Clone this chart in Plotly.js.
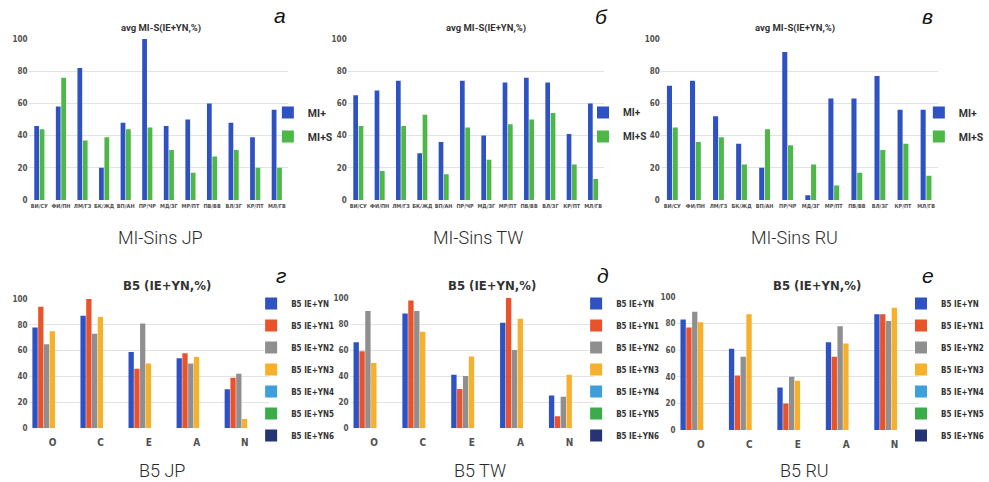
<!DOCTYPE html>
<html>
<head>
<meta charset="utf-8">
<script src="https://cdn.plot.ly/plotly-3.0.1.min.js"></script>
<style>html,body{margin:0;padding:0;background:#fff;}#chart{width:989px;height:482px;}</style>
</head>
<body>
<div id="chart"></div>
<script>
// ---------- data ----------
const miCats = ['ВИ/СУ','ФИ/ПН','ЛМ/ГЗ','БК/ЖД','ВП/АН','ПР/ЧР','МД/ЗГ','МР/ПТ','ПВ/ВВ','ВЛ/ЗГ','КР/ПТ','МЛ/ГВ'];
const jpMIplus = [46, 58, 82, 20, 48, 100, 46, 50, 60, 48, 39, 56];
const jpMIS    = [44, 76, 37, 39, 44, 45, 31, 17, 27, 31, 20, 20];
const twMIplus = [65, 68, 74, 29, 36, 74, 40, 73, 76, 73, 41, 60];
const twMIS    = [46, 18, 46, 53, 16, 45, 25, 47, 50, 54, 22, 13];
const ruMIplus = [71, 74, 52, 35, 20, 92, 3, 63, 63, 77, 56, 56];
const ruMIS    = [45, 36, 39, 22, 44, 34, 22, 9, 17, 31, 35, 15];
const miNames  = ['MI+', 'MI+S'];

const b5Cats = ['O', 'C', 'E', 'A', 'N'];
const b5Names = ['B5 IE+YN','B5 IE+YN1','B5 IE+YN2','B5 IE+YN3','B5 IE+YN4','B5 IE+YN5','B5 IE+YN6'];
const jpYN  = [78, 87, 59, 54, 30];
const jpYN1 = [94, 100, 46, 58, 39];
const jpYN2 = [65, 73, 81, 50, 42];
const jpYN3 = [75, 86, 50, 55, 7];
const twYN  = [66, 88, 41, 81, 25];
const twYN1 = [59, 98, 30, 100, 9];
const twYN2 = [90, 90, 40, 60, 24];
const twYN3 = [50, 74, 55, 84, 41];
const ruYN  = [83, 61, 32, 66, 87];
const ruYN1 = [77, 41, 20, 55, 87];
const ruYN2 = [89, 55, 40, 78, 82];
const ruYN3 = [81, 87, 37, 65, 92];
const emptySeries = [null, null, null, null, null];
const yTicks = [0, 20, 40, 60, 80, 100];

const panelTitles = ['avg MI-S(IE+YN,%)', 'B5 (IE+YN,%)'];
const captions = ['MI-Sins JP', 'MI-Sins TW', 'MI-Sins RU', 'B5 JP', 'B5 TW', 'B5 RU'];
const letters = ['а', 'б', 'в', 'г', 'д', 'е'];

// ---------- styling ----------
const W = 989, H = 482;
const px = v => v / W, py = v => 1 - v / H;
const NARROW = 'DejaVu Sans Condensed, Liberation Sans Narrow, Roboto, sans-serif';
const SLIM = 'Roboto, Lato, sans-serif';
const miColors = ['#2f52c2', '#4db848'];
const b5Colors = ['#2f52c2', '#e9532b', '#8f8f8f', '#f6b02b', '#3d9fdb', '#3aad4a', '#253472'];

// plot areas in pixels [x0, x1, yTop(100), yBottom(0)]
const areas = [
  [29, 292, 39, 200], [353, 613, 39, 200], [671, 952, 39, 200],
  [29, 273, 299, 428], [355, 603, 298, 428], [687, 933, 297, 430]
];
const legendX = [272, 592, 933, 255, 585, 915];

const traces = [];
const miData = [[jpMIplus, jpMIS], [twMIplus, twMIS], [ruMIplus, ruMIS]];
const b5Data = [
  [jpYN, jpYN1, jpYN2, jpYN3, emptySeries, emptySeries, emptySeries],
  [twYN, twYN1, twYN2, twYN3, emptySeries, emptySeries, emptySeries],
  [ruYN, ruYN1, ruYN2, ruYN3, emptySeries, emptySeries, emptySeries]
];
const legendId = i => i === 0 ? 'legend' : 'legend' + (i + 1);
const axId = i => i === 0 ? '' : String(i + 1);

miData.forEach((pair, p) => {
  pair.forEach((vals, s) => {
    traces.push({
      type: 'bar', x: miCats, y: vals, name: miNames[s],
      xaxis: 'x' + axId(p), yaxis: 'y' + axId(p),
      marker: {color: miColors[s]},
      width: 0.22, offset: s === 0 ? -0.235 : 0.015,
      legend: legendId(p), legendgroup: 'g' + p + s,
      hoverinfo: 'x+y+name'
    });
  });
});
b5Data.forEach((series, q) => {
  const p = q + 3;
  series.forEach((vals, s) => {
    traces.push({
      type: 'bar', x: b5Cats, y: vals, name: b5Names[s],
      xaxis: 'x' + axId(p), yaxis: 'y' + axId(p),
      marker: {color: b5Colors[s]},
      width: 0.11, offset: -0.42 + s * 0.12,
      legend: legendId(p), legendgroup: 'g' + p + s,
      hoverinfo: 'x+y+name'
    });
  });
});

const layout = {
  width: W, height: H,
  margin: {l: 0, r: 0, t: 0, b: 0},
  paper_bgcolor: '#ffffff', plot_bgcolor: 'rgba(0,0,0,0)',
  barmode: 'overlay',
  showlegend: true,
  font: {family: NARROW, color: '#404040'},
  annotations: [],
  shapes: []
};

areas.forEach((a, i) => {
  const top = i < 3;
  layout['xaxis' + axId(i)] = {
    domain: [px(a[0]), px(a[1])],
    anchor: 'y' + axId(i),
    type: 'category',
    showgrid: false, zeroline: false,
    showline: false,
    ticks: '',
    tickangle: 0,
    ticklabelstandoff: top ? 1 : 7,
    tickfont: {family: NARROW, size: top ? 5.5 : 10, color: '#505050', weight: 'bold'},
    fixedrange: true
  };
  layout['yaxis' + axId(i)] = {
    domain: [py(a[3]), py(a[2])],
    anchor: 'x' + axId(i),
    range: [0, 100],
    tickvals: yTicks,
    showgrid: true, gridcolor: '#e3e3e3', gridwidth: 1,
    zeroline: false, showline: false, ticks: '',
    tickfont: {family: NARROW, size: 8, color: '#505050', weight: 'bold'},
    fixedrange: true
  };
  // panel title
  layout.annotations.push({
    xref: 'paper', yref: 'paper',
    x: px(top ? [163, 493, 807][i] : [170, 500, 830][i - 3]),
    y: py(top ? 28 : 285),
    text: '<b>' + (top ? panelTitles[0] : panelTitles[1]) + '</b>',
    showarrow: false, xanchor: 'center', yanchor: 'middle',
    font: top ? {family: SLIM, size: 9.5, color: '#333333'} : {family: NARROW, size: 13, color: '#333333'}
  });
  // caption
  layout.annotations.push({
    xref: 'paper', yref: 'paper',
    x: px(top ? [163, 485, 807][i] : [165, 487, 817][i - 3]),
    y: py(top ? 237 : 470),
    text: captions[i],
    showarrow: false, xanchor: 'center', yanchor: 'middle',
    font: {family: 'Roboto, Liberation Sans, sans-serif', size: 18, color: '#2a2a2a', weight: 300}
  });
  // panel letter
  layout.annotations.push({
    xref: 'paper', yref: 'paper',
    x: px([284, 611, 942, 285, 612, 942][i]),
    y: py([15, 17, 17, 275, 275, 275][i]),
    text: '<i>' + letters[i] + '</i>',
    showarrow: false, xanchor: 'center', yanchor: 'middle',
    font: {family: 'Liberation Sans, Arial, sans-serif', size: 21, color: '#111111'}
  });
  // legend
  layout[legendId(i)] = top ? {
    x: px(legendX[i]), y: py(98), xanchor: 'left', yanchor: 'top',
    bgcolor: 'rgba(0,0,0,0)', borderwidth: 0,
    traceorder: 'grouped', tracegroupgap: 5,
    font: {family: SLIM, size: i === 1 ? 10 : 10.5, color: '#333333', weight: 'bold'}
  } : {
    x: px(legendX[i]), y: py(289), xanchor: 'left', yanchor: 'top',
    bgcolor: 'rgba(0,0,0,0)', borderwidth: 0,
    traceorder: 'grouped', tracegroupgap: 3,
    font: {family: NARROW, size: 8, color: '#333333', weight: 'bold'}
  };
});

Plotly.newPlot('chart', traces, layout, {displayModeBar: false, staticPlot: true});
</script>
</body>
</html>
